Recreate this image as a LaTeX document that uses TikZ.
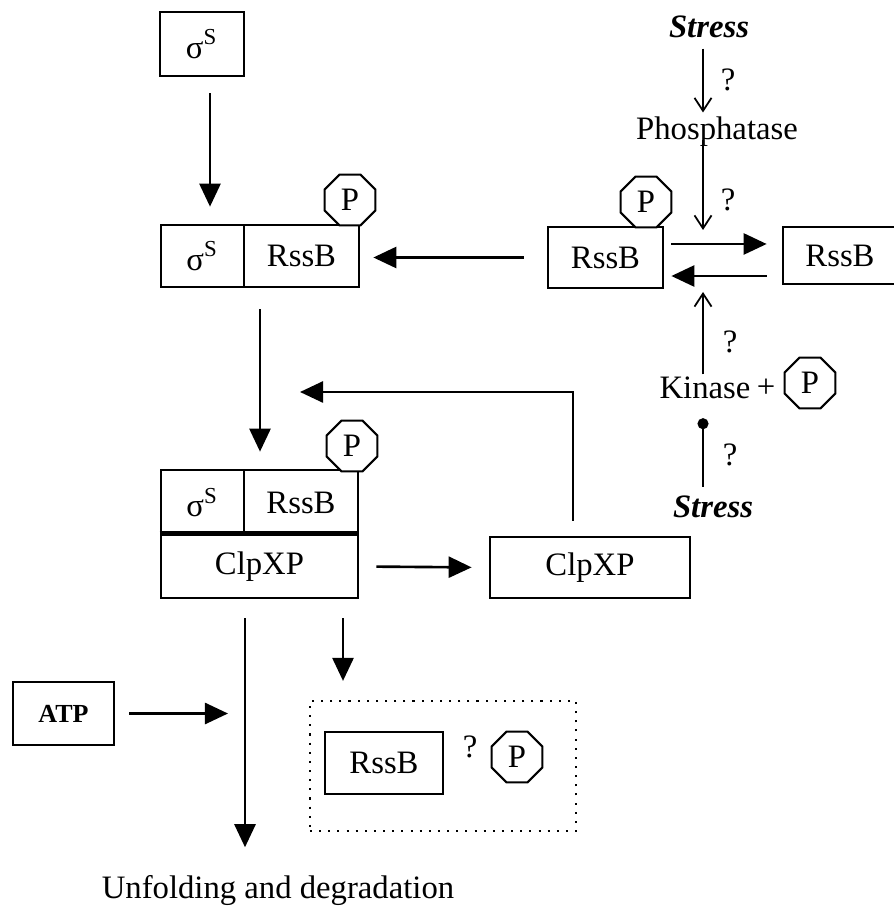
\documentclass[tikz,border=0pt]{standalone}
\usepackage{fontspec}
\setmainfont{Liberation Serif}
\usetikzlibrary{arrows.meta, positioning, shapes.geometric}

\begin{document}
\begin{tikzpicture}[x=0.01cm, y=-0.01cm, font=\fontsize{9.3}{11}\selectfont,
  box/.style={draw, line width=0.75pt, inner sep=0pt, minimum height=0.62cm},
  octa/.style={draw, regular polygon, regular polygon sides=8, line width=0.6pt, inner sep=0pt, minimum size=0.55cm, fill=white},
  lbl/.style={inner sep=0pt},
  bigarrow/.style={line width=0.75pt, -{Triangle[length=0.23cm, width=0.21cm]}},
  thinarrow/.style={line width=0.5pt, -{Straight Barb[length=0.13cm, width=0.17cm]}}]

\useasboundingbox (0,0) rectangle (893,910);

% --- Boxes ---
\node[box, minimum width=0.84cm, minimum height=0.64cm] (sig) at (202,44) {σ\textsuperscript{S}};

\node[box, minimum width=0.83cm] (c1s) at (202.5,256) {σ\textsuperscript{S}};
\node[box, minimum width=1.15cm] (c1r) at (301.5,256) {RssB};
\node[octa] (p1) at (350,200) {P};

\node[box, minimum width=1.15cm, minimum height=0.61cm] (rp) at (605.5,257.5) {RssB};
\node[octa] (p2) at (646,202) {P};
% right edge falls outside the page, as in the scan
\node[box, minimum width=1.24cm, minimum height=0.57cm] (rr) at (845,255.5) {\hspace*{-0.1cm}RssB};

\node[box, minimum width=0.83cm, minimum height=0.65cm] (c2s) at (202.5,502.5) {σ\textsuperscript{S}};
\node[box, minimum width=1.14cm, minimum height=0.65cm] (c2r) at (301,502.5) {RssB};
\node[box, minimum width=1.97cm, minimum height=0.63cm] (c2c) at (259.5,566.5) {ClpXP};
\draw[line width=1.6pt] (c2c.north west) -- (c2c.north east);
\node[octa] (p3) at (352,446) {P};

\node[box, minimum width=2.0cm, minimum height=0.61cm] (cx) at (590,567.5) {ClpXP};

\node[box, minimum width=1.01cm, minimum height=0.63cm, font=\fontsize{7.4}{9}\selectfont\bfseries] (atp) at (63.5,713.5) {ATP};

\node[draw, dotted, line width=0.6pt, inner sep=0pt, minimum width=2.66cm, minimum height=1.3cm] (dot) at (443,766) {};
\node[box, minimum width=1.18cm] (rfree) at (384,763) {RssB};
\node[lbl] (q5) at (470,747) {?};
\node[octa] (p5) at (517,757) {P};

% --- Texts ---
\node[lbl, font=\fontsize{9.3}{11}\selectfont\bfseries\itshape] (st1) at (709,27) {Stress};
\node[lbl] (ph) at (717,132) {Phosphatase};
\node[lbl] (kin) at (705,388) {Kinase};
\node[lbl] (plus) at (766,388) {+};
\node[octa] (p4) at (810,383) {P};
\node[lbl, font=\fontsize{9.3}{11}\selectfont\bfseries\itshape] (st2) at (713,507) {Stress};
\node[lbl] (q1) at (728,80) {?};
\node[lbl] (q2) at (728,200) {?};
\node[lbl] (q3) at (730,342) {?};
\node[lbl] (q4) at (730,455) {?};
\node[lbl] (unf) at (278,891) {Unfolding and degradation};

% --- Helper coordinates ---
\coordinate (sx) at (210,0);
\coordinate (dx) at (260,0);
\coordinate (px) at (703,0);
\coordinate (dgx) at (245,0);
\coordinate (rx) at (343,0);
\coordinate (rtop) at (703,230);
\coordinate (rbot) at (703,292);
\coordinate (fbtop) at (573,392);
\coordinate (fbend) at (300,392);

% --- Main pathway ---
\draw[bigarrow, shorten <=0.16cm, shorten >=0.17cm] (sig.south -| sx) -- (c1s.north -| sx);
\draw[bigarrow, shorten <=0.23cm, shorten >=0.13cm] (rp.west) -- (rp.west -| c1r.east);
\draw[bigarrow, shorten <=0.21cm, shorten >=0.17cm] (c1r.south -| dx) -- (c2r.north -| dx);
\draw[bigarrow, shorten <=0.17cm, shorten >=0.17cm] (c2c.east) -- (cx.west);
\draw[bigarrow, shorten <=0.15cm] (cx.north -| fbtop) -- (fbtop) -- (fbend);
\draw[bigarrow, shorten <=0.19cm, shorten >=0.28cm] (c2c.south -| dgx) -- (unf.north -| dgx);
\draw[bigarrow, shorten <=0.19cm, shorten >=0.19cm] (c2c.south -| rx) -- (dot.north -| rx);
\draw[bigarrow, shorten <=0.14cm, shorten >=0.17cm] (atp.east) -- (atp.east -| dgx);

% --- RssB phosphorylation cycle ---
\draw[bigarrow, shorten <=0.07cm, shorten >=0.15cm] ([yshift=0.135cm]rp.east) -- ([yshift=0.135cm]rp.east -| rr.west);
\draw[bigarrow, shorten <=0.15cm, shorten >=0.07cm] ([yshift=-0.185cm]rp.east -| rr.west) -- ([yshift=-0.185cm]rp.east);
\draw[thinarrow, shorten <=0.1cm, shorten >=0.04cm] (st1.south -| px) -- (ph.north -| px);
\draw[thinarrow] (ph.base -| px) -- (rtop);
\draw[thinarrow, shorten <=0.02cm] (kin.north -| px) -- (rbot);
\draw[line width=0.5pt, {Circle[length=0.11cm]}-, shorten <=0.185cm, shorten >=0.08cm] (kin.south -| px) -- (st2.north -| px);

\end{tikzpicture}
\end{document}
